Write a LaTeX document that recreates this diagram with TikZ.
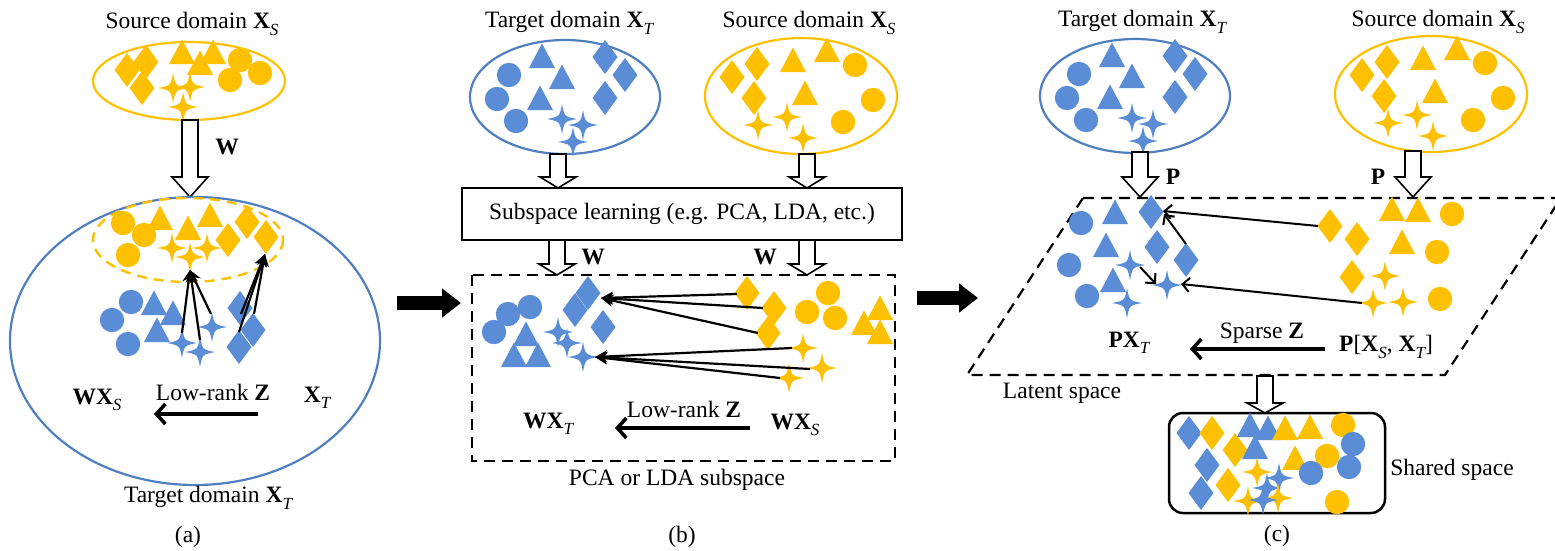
\documentclass[tikz,border=0pt]{standalone}
\usepackage{fontspec}
\setmainfont{Liberation Serif}
\usetikzlibrary{arrows.meta}
\definecolor{bl}{HTML}{5A8DD5}
\definecolor{bls}{HTML}{4F7FC0}
\definecolor{gd}{HTML}{FFC000}
\newcommand\subi[1]{\raisebox{-0.28em}{\fontsize{17}{17}\selectfont\itshape #1}}
\newcommand\shC[3]{\pic[#3] at (#1,#2) {circ};}
\newcommand\shT[3]{\pic[#3] at (#1,#2) {tri};}
\newcommand\shD[3]{\pic[#3] at (#1,#2) {dia};}
\newcommand\shS[3]{\pic[#3] at (#1,#2) {fstar};}
\newcommand\hollow[4]{\draw[line width=1.6pt, fill=white, line join=miter]
  (#1-8,#2) -- (#1+8,#2) -- (#1+8,#3-#4) -- (#1+18,#3-#4) -- (#1,#3) -- (#1-18,#3-#4) -- (#1-8,#3-#4) -- cycle;}
\tikzset{
  B/.style={fill=bl}, G/.style={fill=gd},
  circ/.pic={\path[pic actions] (0,0) circle (12.2);},
  tri/.pic={\path[pic actions] (0,-12.5) -- (13,12) -- (-13,12) -- cycle;},
  dia/.pic={\path[pic actions] (0,-17) -- (12.5,0) -- (0,17) -- (-12.5,0) -- cycle;},
  fstar/.pic={\path[pic actions] (0,-15) .. controls (2.4,-2.4) .. (15,0) .. controls (2.4,2.4) .. (0,15) .. controls (-2.4,2.4) .. (-15,0) .. controls (-2.4,-2.4) .. (0,-15) -- cycle;},
  bellipse/.style={draw=bls, line width=2.2pt},
  gellipse/.style={draw=gd, line width=2.2pt},
  dashbox/.style={draw=black, line width=2.2pt, dash pattern=on 11pt off 7pt},
  convarr/.style={line width=2.2pt, -{Stealth[length=12pt,width=12pt]}},
  barbarr/.style={line width=2pt, -{Straight Barb[length=7pt,width=14pt,line width=2pt]}},
  zarr/.style={line width=4pt, -{Straight Barb[length=9pt,width=20pt,line width=3.5pt]}},
  bigarr/.style={line width=14pt, -{Triangle[length=19pt,width=28pt]}},
  lbl/.style={inner sep=0pt, anchor=center},
}
\newcommand\tgtcluster{%
  \shT{542}{56}{B}\shT{562}{77}{B}\shT{540}{98}{B}
  \shC{509}{75}{B}\shC{497}{99}{B}\shC{516}{121}{B}
  \shD{605}{57}{B}\shD{625}{75}{B}\shD{605}{98}{B}
  \shS{562}{119}{B}\shS{583}{125}{B}\shS{573}{142}{B}}
\newcommand\srccluster{%
  \shD{732}{77}{G}\shD{757}{64}{G}\shD{754}{98}{G}
  \shT{793}{60}{G}\shT{827}{50}{G}\shT{805}{93}{G}
  \shC{855}{65}{G}\shC{873}{100}{G}\shC{843}{122}{G}
  \shS{758}{125}{G}\shS{787}{117}{G}\shS{803}{138}{G}}
\begin{document}
\begin{tikzpicture}[x=1pt,y=-1pt,font=\fontsize{23.5}{28}\selectfont]
\useasboundingbox (0,0) rectangle (1555,550);
% ================= (a) =================
\node[lbl] (ta1) at (192,24) {Source domain \textbf{X}\subi{S}};
\draw[gellipse] (189,81) ellipse (96 and 39);
\shD{127}{70}{G}\shD{146}{62}{G}\shD{142}{88}{G}
\shT{182}{52}{G}\shT{213}{52}{G}\shT{200}{63}{G}
\shC{240}{60}{G}\shC{260}{73}{G}\shC{230}{80}{G}
\shS{173}{88}{G}\shS{190}{87}{G}\shS{183}{107}{G}
\hollow{190}{120}{197}{20}
\node[lbl] (wa) at (227,147) {\textbf{W}};
\draw[bellipse] (195,341) ellipse (185 and 144);
\draw[draw=gd, line width=2.4pt, dash pattern=on 10pt off 7pt] (188,240) ellipse (95 and 42);
\shC{123}{223}{G}\shC{144}{235}{G}\shC{128}{255}{G}
\shT{160}{218}{G}\shT{188}{228}{G}\shT{210}{215}{G}
\shD{247}{222}{G}\shD{228}{240}{G}\shD{266}{237}{G}
\shS{172}{248}{G}\shS{190}{257}{G}\shS{207}{248}{G}
\shC{131}{302}{B}\shC{112}{320}{B}\shC{128}{344}{B}
\shT{154}{303}{B}\shT{173}{313}{B}\shT{157}{330}{B}
\shS{182}{343}{B}\shS{200}{352}{B}\shS{212}{327}{B}
\shD{240}{308}{B}\shD{253}{330}{B}\shD{239}{347}{B}
\coordinate (ah1) at (190,270);
\coordinate (ah2) at (265,254);
\coordinate (as1) at (182,333);
\coordinate (as2) at (200,340);
\coordinate (as3) at (211,314);
\coordinate (as4) at (239,332);
\coordinate (as5) at (241,314);
\coordinate (as6) at (254,314);
\foreach \s in {as1,as2,as3} \draw[convarr] (\s) -- (ah1);
\foreach \s in {as4,as5,as6} \draw[convarr] (\s) -- (ah2);
\node[lbl] (wxs) at (97,400) {\textbf{WX}\subi{S}};
\node[lbl] (lra) at (213,392) {Low-rank \textbf{Z}};
\node[lbl] (xta) at (317,398) {\textbf{X}\subi{T}};
\coordinate (za1) at (258,414);
\coordinate (za2) at (154,414);
\draw[zarr] (za1) -- (za2);
\node[lbl] (tdA) at (208,498) {Target domain \textbf{X}\subi{T}};
\node[lbl] (capa) at (188,537) {(a)};
% big arrow a->b
\coordinate (ba1) at (397,303);
\coordinate (ba2) at (461,303);
\draw[bigarr] (ba1) -- (ba2);
% ================= (b) =================
\node[lbl] (tb1) at (569,23) {Target domain \textbf{X}\subi{T}};
\node[lbl] (tb2) at (809,23) {Source domain \textbf{X}\subi{S}};
\draw[bellipse] (565,97) ellipse (95 and 57);
\draw[gellipse] (801,96) ellipse (96 and 58);
\tgtcluster
\srccluster
\hollow{558}{154}{188}{11}
\hollow{807}{154}{188}{11}
\node[draw, line width=1.8pt, minimum width=440pt, minimum height=52pt, inner sep=0pt] (sub) at (682,214) {Subspace learning (e.g. PCA, LDA, etc.)};
\hollow{557}{240}{275}{11}
\hollow{807}{240}{275}{11}
\node[lbl] (wb1) at (593,257) {\textbf{W}};
\node[lbl] (wb2) at (765,257) {\textbf{W}};
\draw[dashbox] (472,275) rectangle (895,461);
\shC{530}{307}{B}\shC{508}{314}{B}\shC{494}{332}{B}
\shT{526}{334}{B}\shT{514}{355}{B}\shT{538}{355}{B}
\shD{588}{293}{B}\shD{575}{310}{B}\shD{603}{327}{B}
\shS{558}{332}{B}\shS{567}{343}{B}\shS{583}{357}{B}
\shD{747}{293}{G}\shD{774}{308}{G}\shD{768}{333}{G}
\shC{828}{293}{G}\shC{807}{312}{G}\shC{835}{318}{G}
\shT{880}{308}{G}\shT{864}{323}{G}\shT{880}{332}{G}
\shS{803}{348}{G}\shS{822}{368}{G}\shS{789}{378}{G}
\coordinate (bh1) at (601,298);
\coordinate (bh2) at (595,357);
\coordinate (bs1) at (737,294);
\coordinate (bs2) at (763,308);
\coordinate (bs3) at (758,333);
\coordinate (bs4) at (792,348);
\coordinate (bs5) at (810,369);
\coordinate (bs6) at (780,378);
\foreach \s in {bs1,bs2,bs3} \draw[convarr] (\s) -- (bh1);
\foreach \s in {bs4,bs5,bs6} \draw[convarr] (\s) -- (bh2);
\node[lbl] (wxt) at (548,424) {\textbf{WX}\subi{T}};
\node[lbl] (lrb) at (684,409) {Low-rank \textbf{Z}};
\node[lbl] (wxsb) at (795,425) {\textbf{WX}\subi{S}};
\coordinate (zb1) at (750,428);
\coordinate (zb2) at (615,428);
\draw[zarr] (zb1) -- (zb2);
\node[lbl] (pca) at (677,480) {PCA or LDA subspace};
\node[lbl] (capb) at (682,537) {(b)};
% big arrow b->c
\coordinate (bc1) at (917,298);
\coordinate (bc2) at (978,298);
\draw[bigarr] (bc1) -- (bc2);
% ================= (c) =================
\node[lbl] (tc1) at (1142,22) {Target domain \textbf{X}\subi{T}};
\node[lbl] (tc2) at (1438,22) {Source domain \textbf{X}\subi{S}};
\draw[bellipse] (1135,96) ellipse (95 and 57);
\draw[gellipse] (1431,94) ellipse (96 and 58);
\begin{scope}[shift={(570,-1)}]\tgtcluster\end{scope}
\begin{scope}[shift={(630,-2)}]\srccluster\end{scope}
\hollow{1140}{152}{197}{20}
\hollow{1413}{151}{197}{20}
\node[lbl] (pc1) at (1173,177) {\textbf{P}};
\node[lbl] (pc2) at (1378,177) {\textbf{P}};
\draw[dashbox] (1083,198) -- (1561,198) -- (1445,375) -- (967,375) -- cycle;
\shC{1081}{223}{B}\shC{1069}{265}{B}\shC{1087}{296}{B}
\shT{1115}{212}{B}\shT{1106}{245}{B}\shT{1113}{280}{B}
\shD{1151}{212}{B}\shD{1157}{247}{B}\shD{1186}{260}{B}
\shS{1130}{265}{B}\shS{1167}{285}{B}\shS{1127}{303}{B}
\shD{1330}{226}{G}\shD{1357}{239}{G}\shD{1352}{277}{G}
\shT{1392}{209}{G}\shT{1418}{210}{G}\shT{1402}{242}{G}
\shC{1452}{214}{G}\shC{1437}{252}{G}\shC{1440}{299}{G}
\shS{1385}{276}{G}\shS{1373}{303}{G}\shS{1403}{302}{G}
\coordinate (cs1) at (1318,226);
\coordinate (ch1) at (1163,211);
\coordinate (cs2) at (1186,244);
\coordinate (ch2) at (1164,214);
\coordinate (cs3) at (1140,267);
\coordinate (ch3) at (1156,284);
\coordinate (cs4) at (1362,303);
\coordinate (ch4) at (1181,284);
\draw[barbarr] (cs1) -- (ch1);
\draw[barbarr] (cs2) -- (ch2);
\draw[barbarr] (cs3) -- (ch3);
\draw[barbarr] (cs4) -- (ch4);
\node[lbl] (pxt) at (1129,343) {\textbf{PX}\subi{T}};
\node[lbl] (spz) at (1262,333) {Sparse \textbf{Z}};
\node[lbl] (pxx) at (1386,347) {\textbf{P}[\textbf{X}\subi{S}, \textbf{X}\subi{T}]};
\coordinate (zc1) at (1325,349);
\coordinate (zc2) at (1190,349);
\draw[zarr] (zc1) -- (zc2);
\node[lbl] (lat) at (1062,393) {Latent space};
\hollow{1265}{376}{413}{10}
\draw[line width=2.5pt, rounded corners=14pt] (1169,413) rectangle (1385,513);
\shD{1189}{433}{B}\shD{1212}{433}{G}\shD{1207}{465}{B}
\shD{1235}{450}{G}\shD{1228}{485}{G}\shD{1201}{493}{B}
\shT{1250}{425}{B}\shT{1268}{428}{B}\shT{1255}{447}{B}
\shT{1285}{428}{G}\shT{1310}{427}{G}\shT{1295}{458}{G}
\shC{1343}{425}{G}\shC{1353}{444}{B}\shC{1327}{456}{G}
\shC{1311}{473}{B}\shC{1349}{467}{B}\shC{1337}{502}{G}
\shS{1257}{472}{G}\shS{1279}{478}{B}\shS{1267}{488}{B}
\shS{1248}{501}{G}\shS{1278}{498}{G}\shS{1263}{500}{B}
\node[lbl] (shs) at (1452,470) {Shared space};
\node[lbl] (capc) at (1277,536) {(c)};
\end{tikzpicture}
\end{document}
